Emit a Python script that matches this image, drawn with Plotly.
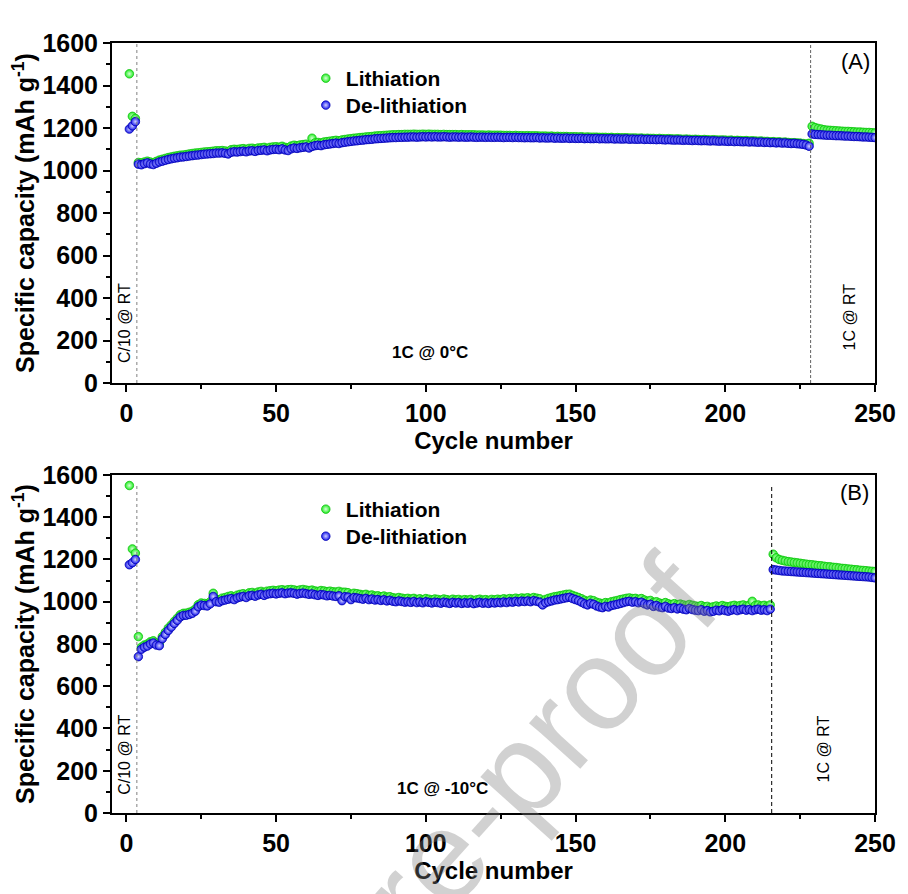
import plotly.graph_objects as go

# ---------------- data ----------------
cycles = list(range(1, 251))

# Panel A (1C @ 0 °C)
a_lithiation = [
    1455, 1255, 1245,
    1038, 1036, 1040, 1044, 1040, 1037, 1043, 1049, 1053, 1057,
    1061, 1064, 1067, 1069, 1072, 1073, 1075, 1078, 1080, 1082,
    1083, 1085, 1087, 1088, 1089, 1091, 1093, 1093, 1094, 1092,
    1090, 1098, 1100, 1099, 1101, 1103, 1100, 1104, 1105, 1102,
    1106, 1107, 1109, 1105, 1109, 1111, 1112, 1110, 1114, 1109,
    1107, 1115, 1119, 1117, 1120, 1122, 1124, 1119, 1152, 1130,
    1132, 1130, 1134, 1136, 1138, 1140, 1142, 1140, 1144, 1146,
    1148, 1150, 1152, 1153, 1155, 1156, 1158, 1159, 1160, 1162,
    1163, 1164, 1165, 1166, 1167, 1168, 1168, 1169, 1169, 1170,
    1170, 1170, 1171, 1170, 1170, 1171, 1170, 1171, 1170, 1170,
    1170, 1169, 1170, 1169, 1169, 1169, 1169, 1168, 1169, 1168,
    1168, 1168, 1168, 1167, 1167, 1167, 1166, 1167, 1166, 1166,
    1166, 1166, 1165, 1165, 1165, 1164, 1165, 1164, 1164, 1163,
    1164, 1163, 1163, 1163, 1162, 1162, 1162, 1161, 1162, 1160,
    1161, 1160, 1160, 1160, 1159, 1159, 1159, 1158, 1159, 1157,
    1158, 1157, 1157, 1157, 1156, 1156, 1156, 1155, 1156, 1154,
    1155, 1154, 1154, 1154, 1153, 1153, 1153, 1152, 1153, 1151,
    1152, 1151, 1151, 1150, 1151, 1150, 1149, 1150, 1149, 1148,
    1149, 1148, 1147, 1148, 1147, 1146, 1147, 1146, 1145, 1146,
    1145, 1144, 1145, 1144, 1143, 1144, 1143, 1142, 1143, 1141,
    1142, 1141, 1140, 1141, 1139, 1140, 1139, 1138, 1139, 1137,
    1137, 1135, 1136, 1134, 1135, 1133, 1134, 1132, 1131, 1131,
    1130, 1129, 1127, 1125, 1128,
    1208, 1202, 1198, 1195, 1192, 1190, 1189, 1188, 1187, 1186,
    1185, 1184, 1184, 1183, 1182, 1181, 1181, 1180, 1179, 1179,
    1178, 1177,
]
a_delithiation = [
    1195, 1210, 1230,
    1030, 1027, 1032, 1036, 1031, 1028, 1034, 1040, 1044, 1048,
    1052, 1055, 1058, 1060, 1063, 1064, 1066, 1068, 1070, 1072,
    1073, 1075, 1077, 1078, 1079, 1080, 1082, 1082, 1083, 1081,
    1078, 1086, 1088, 1087, 1089, 1091, 1088, 1092, 1093, 1090,
    1094, 1095, 1097, 1093, 1097, 1099, 1100, 1098, 1102, 1097,
    1094, 1102, 1106, 1104, 1107, 1109, 1111, 1106, 1113, 1117,
    1119, 1117, 1121, 1123, 1125, 1127, 1129, 1127, 1131, 1133,
    1135, 1137, 1139, 1140, 1142, 1143, 1145, 1146, 1147, 1149,
    1150, 1151, 1152, 1153, 1154, 1155, 1155, 1156, 1156, 1157,
    1157, 1158, 1158, 1157, 1158, 1159, 1158, 1159, 1158, 1159,
    1158, 1158, 1159, 1158, 1157, 1158, 1158, 1157, 1158, 1157,
    1157, 1158, 1157, 1156, 1157, 1157, 1156, 1157, 1156, 1156,
    1157, 1156, 1155, 1156, 1156, 1155, 1156, 1155, 1155, 1154,
    1155, 1154, 1154, 1155, 1153, 1154, 1153, 1153, 1154, 1152,
    1153, 1152, 1152, 1153, 1151, 1152, 1151, 1151, 1152, 1150,
    1151, 1150, 1150, 1151, 1149, 1150, 1149, 1149, 1150, 1148,
    1149, 1148, 1148, 1149, 1147, 1148, 1147, 1147, 1148, 1146,
    1147, 1146, 1146, 1145, 1146, 1145, 1144, 1145, 1144, 1143,
    1144, 1143, 1142, 1143, 1142, 1141, 1142, 1141, 1140, 1141,
    1140, 1139, 1140, 1139, 1138, 1139, 1138, 1137, 1138, 1136,
    1137, 1136, 1135, 1136, 1134, 1135, 1134, 1133, 1134, 1132,
    1133, 1131, 1132, 1130, 1131, 1129, 1130, 1128, 1127, 1128,
    1126, 1125, 1123, 1120, 1114,
    1172, 1170, 1169, 1168, 1167, 1166, 1166, 1165, 1164, 1164,
    1163, 1162, 1162, 1161, 1160, 1160, 1159, 1158, 1158, 1157,
    1156, 1155,
]

# Panel B (1C @ -10 °C)
b_lithiation = [
    1550, 1250, 1230,
    835, 785, 795, 800, 810, 815, 805, 802, 835, 855,
    875, 890, 907, 922, 938, 945, 946, 950, 955, 965,
    986, 994, 992, 990, 1000, 1040, 1012, 1010, 1017, 1020,
    1025, 1028, 1023, 1031, 1035, 1038, 1034, 1042, 1044, 1040,
    1046, 1049, 1045, 1050, 1052, 1054, 1052, 1055, 1057, 1054,
    1057, 1058, 1056, 1053, 1056, 1058, 1055, 1053, 1055, 1051,
    1049, 1053, 1051, 1048, 1050, 1047, 1046, 1049, 1045, 1045,
    1043, 1035, 1040, 1038, 1035, 1032, 1035, 1030, 1032, 1027,
    1028, 1024, 1027, 1022, 1024, 1019, 1017, 1020, 1017, 1014,
    1016, 1013, 1016, 1011, 1014, 1010, 1015, 1012, 1009, 1013,
    1011, 1008, 1013, 1010, 1007, 1012, 1009, 1011, 1007, 1010,
    1008, 1011, 1006, 1009, 1012, 1008, 1010, 1007, 1011, 1009,
    1012, 1010, 1014, 1011, 1015, 1013, 1017, 1014, 1018, 1016,
    1019, 1015, 1020, 1017, 1014, 1002, 1011, 1016, 1020, 1024,
    1026, 1029, 1032, 1035, 1036, 1030, 1025, 1020, 1014, 1007,
    1002, 1008, 1005, 998, 994, 991, 996, 994, 1000, 1003,
    1006, 1010, 1013, 1016, 1018, 1015, 1016, 1012, 1015, 1008,
    1003, 1006, 997, 1000, 994, 991, 996, 990, 987, 991,
    986, 989, 985, 982, 987, 983, 980, 978, 982, 976,
    978, 973, 976, 980, 977, 982, 978, 976, 980, 983,
    979, 982, 985, 980, 983, 1002, 982, 985, 980, 983,
    978, 985,
    1225, 1208, 1200, 1196, 1193, 1190, 1188, 1186, 1184, 1182,
    1180, 1178, 1176, 1175, 1173, 1171, 1170, 1168, 1166, 1165,
    1163, 1162, 1160, 1158, 1157, 1155, 1154, 1152, 1151, 1149,
    1148, 1147, 1145, 1144, 1143,
]
b_delithiation = [
    1175, 1185, 1200,
    740, 775, 785, 790, 800, 805, 795, 792, 825, 845,
    864, 880, 897, 912, 928, 935, 936, 940, 945, 955,
    976, 984, 982, 980, 990, 1025, 1000, 998, 1005, 1008,
    1012, 1015, 1010, 1018, 1022, 1025, 1020, 1028, 1030, 1026,
    1032, 1035, 1030, 1036, 1038, 1040, 1037, 1040, 1042, 1038,
    1041, 1042, 1040, 1036, 1039, 1041, 1038, 1035, 1037, 1033,
    1030, 1034, 1032, 1028, 1030, 1027, 1025, 1028, 1005, 1024,
    1022, 1010, 1020, 1018, 1015, 1012, 1016, 1010, 1013, 1008,
    1010, 1006, 1009, 1004, 1007, 1002, 1000, 1004, 1001, 998,
    1000, 997, 1001, 996, 999, 995, 1000, 997, 994, 998,
    996, 993, 998, 995, 992, 997, 994, 996, 992, 995,
    993, 996, 991, 994, 997, 993, 995, 992, 996, 994,
    997, 995, 999, 996, 1000, 998, 1002, 999, 1003, 1001,
    1004, 1000, 1005, 1002, 998, 985, 995, 1000, 1004, 1008,
    1010, 1013, 1016, 1019, 1021, 1015, 1010, 1005, 998, 990,
    985, 992, 988, 980, 975, 972, 978, 975, 982, 985,
    988, 992, 996, 1000, 1002, 998, 1000, 995, 998, 990,
    985, 988, 978, 982, 975, 972, 978, 970, 968, 972,
    966, 970, 965, 962, 968, 963, 960, 958, 962, 955,
    958, 952, 955, 960, 957, 962, 958, 955, 960, 963,
    958, 962, 965, 960, 963, 958, 962, 965, 960, 962,
    958, 965,
    1152, 1150, 1148, 1146, 1145, 1144, 1143, 1142, 1141, 1140,
    1139, 1138, 1137, 1136, 1135, 1134, 1133, 1132, 1131, 1130,
    1129, 1128, 1127, 1126, 1125, 1124, 1123, 1122, 1121, 1120,
    1119, 1118, 1117, 1115, 1113,
]

x_ticks = [0, 50, 100, 150, 200, 250]
y_ticks = [0, 200, 400, 600, 800, 1000, 1200, 1400, 1600]

# rate-change boundaries (cycle positions of the dashed lines)
a_bounds = [3.5, 228.5]
b_bounds = [3.5, 215.5]

# ---------------- style ----------------
FONT = "Liberation Sans, Arial, sans-serif"
GREEN = "#22ee22"
GREEN_EDGE = "#10c010"
BLUE = "#1a1aee"
BLUE_EDGE = "#0000b0"


def series(x, y, name, color, edge, center, xa, ya, leg):
    return go.Scatter(
        x=x, y=y, mode="markers", name=name, xaxis=xa, yaxis=ya, legend=leg,
        marker=dict(size=8.5, color=color, line=dict(color=edge, width=0.8),
                    gradient=dict(type="radial", color=center)),
    )


fig = go.Figure()
fig.add_trace(series(cycles, a_lithiation, "Lithiation", GREEN, GREEN_EDGE, "#d8ffd8", "x", "y", "legend"))
fig.add_trace(series(cycles, a_delithiation, "De-lithiation", BLUE, BLUE_EDGE, "#d0d0ff", "x", "y", "legend2"))
fig.add_trace(series(cycles, b_lithiation, "Lithiation", GREEN, GREEN_EDGE, "#d8ffd8", "x2", "y2", "legend3"))
fig.add_trace(series(cycles, b_delithiation, "De-lithiation", BLUE, BLUE_EDGE, "#d0d0ff", "x2", "y2", "legend4"))


def xax(anchor):
    return dict(
        domain=[0, 1], anchor=anchor, range=[-4.8, 250], tickvals=x_ticks,
        ticks="outside", ticklen=7, tickwidth=1.5, tickcolor="black",
        minor=dict(ticks="outside", ticklen=4, dtick=25, tick0=0, tickwidth=1.5, tickcolor="black"),
        showline=True, linecolor="black", linewidth=2, mirror=True,
        showgrid=False, zeroline=False,
        tickfont=dict(family=FONT, size=25, color="black", weight="bold"),
        title=dict(text="<b>Cycle number</b>", standoff=5,
                   font=dict(family=FONT, size=24, color="black")),
    )


def yax(anchor, domain):
    return dict(
        domain=domain, anchor=anchor, range=[0, 1600], tickvals=y_ticks,
        ticks="outside", ticklen=7, tickwidth=1.5, tickcolor="black",
        minor=dict(ticks="outside", ticklen=4, dtick=100, tick0=0, tickwidth=1.5, tickcolor="black"),
        showline=True, linecolor="black", linewidth=2, mirror=True,
        showgrid=False, zeroline=False,
        tickfont=dict(family=FONT, size=25, color="black", weight="bold"),
        title=dict(text="<b>Specific capacity (mAh g<sup>-1</sup>)</b>", standoff=5,
                   font=dict(family=FONT, size=25, color="black")),
    )


legend_style = dict(
    font=dict(family=FONT, size=21, color="black", weight="bold"),
    bgcolor="rgba(0,0,0,0)", borderwidth=0, xanchor="left", yanchor="top",
    itemwidth=30,
)

# the page body adds an 8 px offset, so the figure is 8 px smaller on each axis
fig.update_layout(
    width=900, height=886,
    margin=dict(l=104, r=25, t=35, b=81),
    paper_bgcolor="white", plot_bgcolor="white",
    font=dict(family=FONT, color="black"),
    xaxis=xax("y"), yaxis=yax("x", [0.5584, 1.0]),
    xaxis2=xax("y2"), yaxis2=yax("x2", [0.0, 0.439]),
    legend=dict(x=0.254, y=0.9805, **legend_style),
    legend2=dict(x=0.254, y=0.9455, **legend_style),
    legend3=dict(x=0.254, y=0.4208, **legend_style),
    legend4=dict(x=0.254, y=0.3857, **legend_style),
    showlegend=True,
)

# dashed boundary lines
fig.add_shape(type="line", xref="x", yref="y", x0=a_bounds[0], x1=a_bounds[0], y0=0, y1=1600,
              line=dict(color="#808080", width=1, dash="dot"))
fig.add_shape(type="line", xref="x", yref="y", x0=a_bounds[1], x1=a_bounds[1], y0=0, y1=1600,
              line=dict(color="#606060", width=1, dash="3px,2px"))
fig.add_shape(type="line", xref="x2", yref="y2", x0=b_bounds[0], x1=b_bounds[0], y0=0, y1=1550,
              line=dict(color="#808080", width=1, dash="dot"))
fig.add_shape(type="line", xref="x2", yref="y2", x0=b_bounds[1], x1=b_bounds[1], y0=0, y1=1550,
              line=dict(color="black", width=1, dash="4px,3px"))


def label(x, y, text, xr, yr, size=16, angle=0, bold=False):
    fig.add_annotation(x=x, y=y, xref=xr, yref=yr, text=text, showarrow=False,
                       textangle=angle,
                       font=dict(family=FONT, size=size, color="black",
                                 weight="bold" if bold else "normal"))


label(-0.8, 282, "C/10 @ RT", "x", "y", 16, -90)
label(101.3, 146, "1C @ 0°C", "x", "y", 17, 0, True)
label(241.5, 311, "1C @ RT", "x", "y", 16, -90)
label(243.4, 1511, "(A)", "x", "y", 22)

label(-0.5, 275, "C/10 @ RT", "x2", "y2", 16, -90)
label(105.6, 118, "1C @ -10°C", "x2", "y2", 17, 0, True)
label(233.1, 303, "1C @ RT", "x2", "y2", 16, -90)
label(243.1, 1515, "(B)", "x2", "y2", 22)

# watermark
fig.add_annotation(x=0.318, y=-0.180, xref="paper", yref="paper", text="Journal Pre-proof",
                   showarrow=False, textangle=-48, xanchor="center", yanchor="middle",
                   font=dict(family=FONT, size=130, color="rgba(128,128,128,0.36)"))

fig.write_html("out.html")
